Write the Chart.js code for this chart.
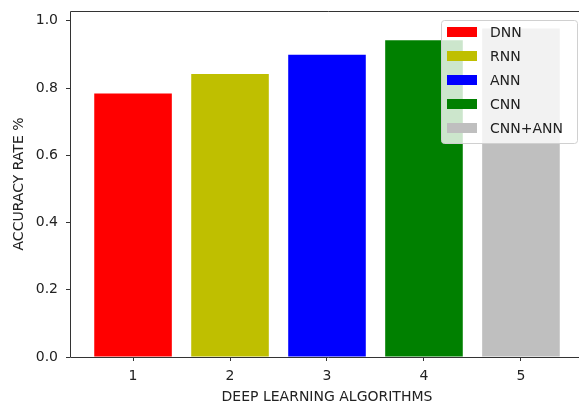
<!DOCTYPE html>
<html>
<head>
<meta charset="utf-8">
<script src="https://cdn.jsdelivr.net/npm/chart.js@4.4.0/dist/chart.umd.min.js"></script>
<style>
  html, body { margin: 0; padding: 0; background: #fff; overflow: hidden; }
  #wrap { width: 579px; height: 408px; overflow: hidden; position: relative; }
  #myChart { position: absolute; left: 0; top: 0; }
</style>
</head>
<body>
<div id="wrap"><canvas id="myChart" width="586" height="408"></canvas></div>
<script>
const algorithms = [1, 2, 3, 4, 5];
const accuracy = [0.784, 0.842, 0.899, 0.942, 0.977];
const legendNames = ["DNN", "RNN", "ANN", "CNN", "CNN+ANN"];
const barColors = ["#ff0000", "#bfbf00", "#0000ff", "#008000", "#bfbfbf"];
const yTicks = [0, 0.2, 0.4, 0.6, 0.8, 1.0];

Chart.defaults.font.family = "DejaVu Sans";
Chart.defaults.font.size = 14;
Chart.defaults.color = "#222";

// spines: left, top, bottom (right one falls off the picture)
const frame = {
  id: "frame",
  afterDatasetsDraw(chart) {
    const { ctx, chartArea: a } = chart;
    const l = Math.round(a.left) + 0.5, t = Math.round(a.top) + 0.5, b = Math.round(a.bottom) + 0.5;
    ctx.save();
    ctx.strokeStyle = "#333";
    ctx.lineWidth = 1;
    ctx.beginPath();
    ctx.moveTo(a.right + 5, t);
    ctx.lineTo(l, t);
    ctx.lineTo(l, b);
    ctx.lineTo(a.right + 5, b);
    ctx.stroke();
    ctx.restore();
  }
};

// legend inside the axes, upper right
const innerLegend = {
  id: "innerLegend",
  afterDraw(chart) {
    const ctx = chart.ctx;
    const x0 = 441, y0 = 20, w = 136, h = 123;
    ctx.save();
    ctx.fillStyle = "rgba(255,255,255,0.8)";
    ctx.strokeStyle = "#d0d0d0";
    ctx.lineWidth = 1;
    ctx.beginPath();
    ctx.roundRect(x0 + 0.5, y0 + 0.5, w, h, 3);
    ctx.fill();
    ctx.stroke();
    ctx.font = "14px 'DejaVu Sans'";
    ctx.textBaseline = "middle";
    legendNames.forEach((name, i) => {
      const cy = 32 + i * 24;
      ctx.fillStyle = barColors[i];
      ctx.fillRect(447, cy - 5, 30, 10);
      ctx.fillStyle = "#222";
      ctx.fillText(name, 490, cy + 1);
    });
    ctx.restore();
  }
};

new Chart(document.getElementById("myChart"), {
  type: "bar",
  data: {
    datasets: [{
      data: algorithms.map((a, i) => ({ x: a, y: accuracy[i] })),
      backgroundColor: barColors,
      borderWidth: 0,
      barPercentage: 0.8,
      categoryPercentage: 1.0
    }]
  },
  options: {
    responsive: false,
    animation: false,
    layout: { padding: { top: 11, right: 2, left: 0, bottom: 0 } },
    plugins: { legend: { display: false }, tooltip: { enabled: false } },
    scales: {
      x: {
        type: "linear",
        offset: false,
        min: 0.35,
        max: 5.65,
        afterBuildTicks: (s) => { s.ticks = algorithms.map(v => ({ value: v })); },
        afterFit: (s) => { s.height = 51; s.paddingLeft = 0; s.paddingRight = 0; },
        ticks: { padding: 7, callback: (v) => String(v), maxRotation: 0 },
        grid: { offset: false, drawOnChartArea: false, drawTicks: true, tickLength: 4, color: "#333" },
        border: { display: false },
        title: { display: true, text: "DEEP LEARNING ALGORITHMS", padding: { top: 2, bottom: 2 } }
      },
      y: {
        min: 0,
        max: 1.029,
        afterBuildTicks: (s) => { s.ticks = yTicks.map(v => ({ value: v })); },
        afterFit: (s) => { s.width = 70; s.paddingTop = 0; s.paddingBottom = 0; },
        ticks: { padding: 8, callback: (v) => v.toFixed(1) },
        grid: { drawOnChartArea: false, drawTicks: true, tickLength: 4, color: "#333" },
        border: { display: false },
        title: { display: true, text: "ACCURACY RATE %", padding: { top: 11, bottom: 4 } }
      }
    }
  },
  plugins: [frame, innerLegend]
});
</script>
</body>
</html>
